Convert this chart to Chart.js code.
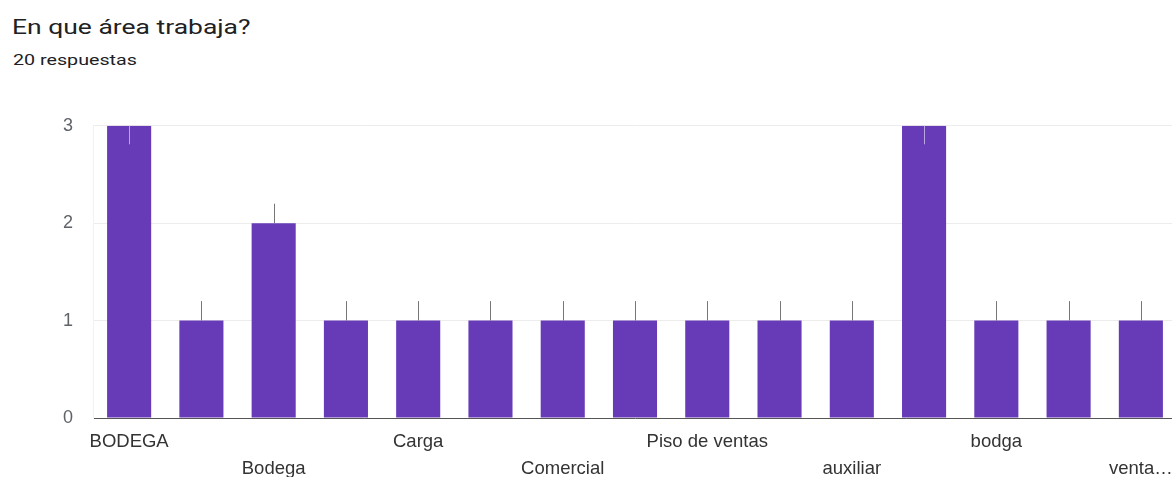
<!DOCTYPE html>
<html>
<head>
<meta charset="utf-8">
<script src="https://cdn.jsdelivr.net/npm/chart.js@4.4.1/dist/chart.umd.min.js"></script>
<style>
  html, body { margin: 0; padding: 0; background: #fff; width: 1172px; height: 477px; overflow: hidden; }
  #title { position: absolute; left: 12px; top: 17px; font-family: Roboto, "Noto Sans", sans-serif; font-size: 21px; line-height: 1; color: #202124; transform: scaleX(1.26); transform-origin: 0 0; white-space: nowrap; }
  #sub { position: absolute; left: 13px; top: 53px; font-family: Roboto, "Noto Sans", sans-serif; font-size: 15.5px; line-height: 1; color: #202124; transform: scaleX(1.27); transform-origin: 0 0; white-space: nowrap; }
  #wrap { position: absolute; left: 0; top: 95px; width: 1177px; height: 382px; }
</style>
</head>
<body>
<div id="title">En que área trabaja?</div>
<div id="sub">20 respuestas</div>
<div id="wrap"><canvas id="c" width="1177" height="382"></canvas></div>
<script>
const categories = ["BODEGA", "", "Bodega", "", "Carga", "", "Comercial", "", "Piso de ventas", "", "auxiliar", "", "bodga", "", "venta…"];
const counts = [3, 1, 2, 1, 1, 1, 1, 1, 1, 1, 1, 3, 1, 1, 1];
const yTicks = [0, 1, 2, 3];

const whiskers = {
  id: 'whiskers',
  afterDatasetsDraw(chart) {
    const ctx = chart.ctx, x = chart.scales.x, y = chart.scales.y;
    const top = chart.chartArea.top;
    ctx.save();
    ctx.lineWidth = 1;
    counts.forEach((v, i) => {
      const px = Math.round(x.getPixelForValue(i)) + 0.5;
      const py = y.getPixelForValue(v);
      const up = y.getPixelForValue(v + 0.2);
      ctx.beginPath();
      if (up < top - 1) {
        ctx.strokeStyle = 'rgba(200,185,235,0.85)';
        ctx.moveTo(px, py);
        ctx.lineTo(px, y.getPixelForValue(v - 0.19));
      } else {
        ctx.strokeStyle = '#777';
        ctx.moveTo(px, py);
        ctx.lineTo(px, up);
      }
      ctx.stroke();
    });
    ctx.restore();
  }
};

new Chart(document.getElementById('c'), {
  type: 'bar',
  data: {
    labels: categories,
    datasets: [{
      data: counts,
      backgroundColor: '#673ab7',
      borderWidth: 0,
      categoryPercentage: 1,
      barPercentage: 0.61
    }]
  },
  options: {
    responsive: false,
    animation: false,
    layout: { padding: { left: 62, top: 20, right: 0, bottom: 0 } },
    plugins: { legend: { display: false }, tooltip: { enabled: false } },
    scales: {
      x: {
        afterFit(axis) { axis.height = 59; axis.paddingLeft = 0; axis.paddingRight = 0; },
        grid: { display: false, drawTicks: false },
        border: { display: true, color: '#555', width: 1 },
        ticks: {
          autoSkip: false,
          maxRotation: 0,
          minRotation: 0,
          padding: 10,
          color: '#333',
          font: { family: '"Liberation Sans", Arial, sans-serif', size: 18.5, lineHeight: 1.46 },
          callback: function(val, i) {
            const lab = categories[i];
            if (!lab) return '';
            return (i / 2) % 2 === 0 ? [lab] : ['', lab];
          }
        }
      },
      y: {
        afterFit(axis) { axis.width = 31; },
        min: yTicks[0],
        max: yTicks[yTicks.length - 1],
        afterBuildTicks(axis) { axis.ticks = yTicks.map(v => ({ value: v })); },
        grid: { color: '#ececec', drawTicks: false },
        border: { display: true, color: '#f2f2f2' },
        ticks: {
          padding: 20,
          color: '#5f6368',
          font: { family: '"Liberation Sans", Arial, sans-serif', size: 18 }
        }
      }
    }
  },
  plugins: [whiskers]
});
</script>
</body>
</html>
